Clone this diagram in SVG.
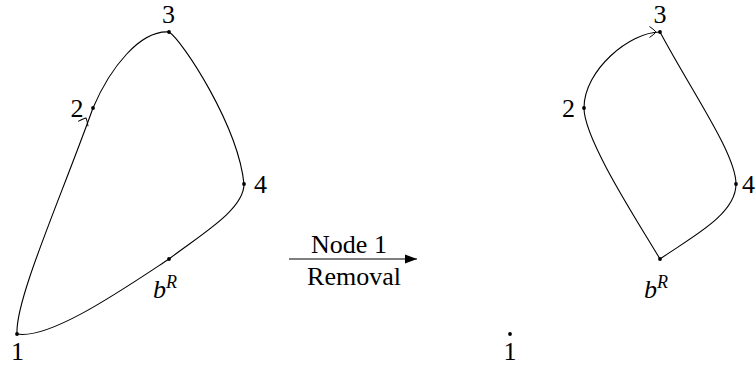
<svg xmlns="http://www.w3.org/2000/svg" width="755" height="372" viewBox="0 0 755 372">
<style>
.e{fill:none;stroke:#000;stroke-width:1.1}
.d{fill:#000}
text{font-family:"Liberation Serif","DejaVu Serif",serif;font-size:26px;fill:#000}
.m{text-anchor:middle}
.i{font-style:italic}
.s{font-size:18px}
</style>
<defs>
<marker id="to" viewBox="-8 -7 10 14" markerWidth="10" markerHeight="14" refX="0" refY="0" orient="auto" markerUnits="userSpaceOnUse">
<path d="M-6.5,-5.5 Q-1,-1.5 0,0 Q-1,1.5 -6.5,5.5" fill="none" stroke="#000" stroke-width="1"/>
</marker>
<marker id="tri" viewBox="0 -5 12 10" markerWidth="12" markerHeight="10" refX="12" refY="0" orient="auto" markerUnits="userSpaceOnUse">
<path d="M0,-4.5 L12,0 L0,4.5 Z" fill="#000"/>
</marker>
</defs>
<g id="connectors">
<path class="e" d="M17,334 C15,300 60,200 93,108"/>
<path d="M79,132 L86,118" marker-end="url(#to)" stroke="none" fill="none"/>
<path class="e" d="M93,108 C110,68 140,30 169,32"/>
<path class="e" d="M169,32 C182,40 238,125 244,184"/>
<path class="e" d="M244,184 C244,210 200,235 169,259"/>
<path class="e" d="M169,259 C125,288 50,340 17,334"/>
<path class="e" d="M660,259 C640,225 584,140 584,108"/>
<path class="e" d="M584,108 C584,70 630,32 660,32"/>
<path d="M645,32 L656,32" marker-end="url(#to)" stroke="none" fill="none"/>
<path class="e" d="M660,32 C692,92 736,154 736,184"/>
<path class="e" d="M736,184 C736,215 690,238 660,259"/>
<path class="e" d="M289,259 L417,259" marker-end="url(#tri)"/>
</g>
<g id="n1L"><circle class="d" cx="17" cy="334" r="1.9"/><text class="m" x="17.5" y="360">1</text></g>
<g id="n2L"><circle class="d" cx="93" cy="108" r="1.9"/><text class="m" x="77" y="117">2</text></g>
<g id="n3L"><circle class="d" cx="169" cy="32" r="1.9"/><text class="m" x="168.5" y="23">3</text></g>
<g id="n4L"><circle class="d" cx="244" cy="184" r="1.9"/><text class="m" x="260.5" y="193">4</text></g>
<g id="nbL"><circle class="d" cx="169" cy="259" r="1.9"/><text class="i" x="153" y="298">b<tspan class="s" dy="-10">R</tspan></text></g>
<g id="n1R"><circle class="d" cx="510" cy="334" r="1.9"/><text class="m" x="510" y="360">1</text></g>
<g id="n2R"><circle class="d" cx="584" cy="108" r="1.9"/><text class="m" x="568.5" y="117">2</text></g>
<g id="n3R"><circle class="d" cx="660" cy="32" r="1.9"/><text class="m" x="660" y="23">3</text></g>
<g id="n4R"><circle class="d" cx="736" cy="184" r="1.9"/><text x="742" y="193">4</text></g>
<g id="nbR"><circle class="d" cx="660" cy="259" r="1.9"/><text class="i" x="644" y="298">b<tspan class="s" dy="-10">R</tspan></text></g>
<g id="label"><text class="m" x="349" y="253">Node 1</text><text class="m" x="354" y="285">Removal</text></g>
</svg>
